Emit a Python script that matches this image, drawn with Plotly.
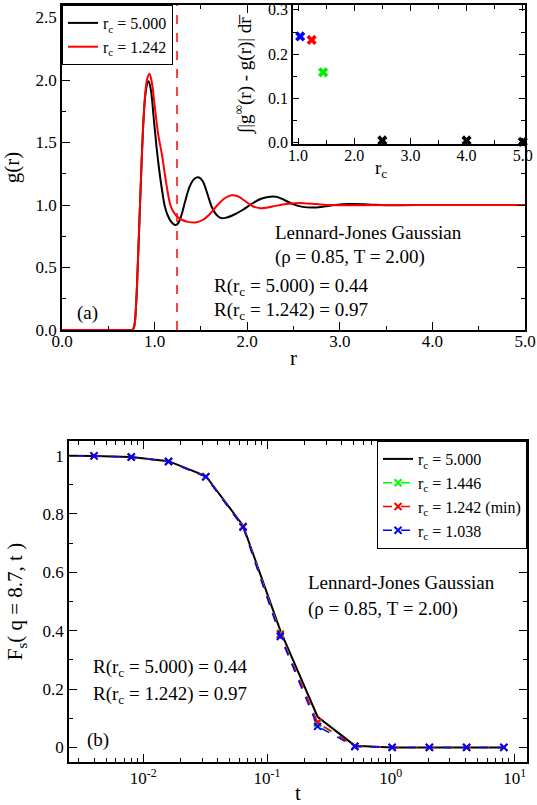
import plotly.graph_objects as go

# ---------------- data: panel (a) g(r) ----------------
r_black = [0.0, 0.70, 0.76, 0.78, 0.80, 0.82, 0.84, 0.86, 0.88, 0.90, 0.92, 0.935, 0.96, 0.99,
           1.02, 1.05, 1.08, 1.11, 1.14, 1.18, 1.22, 1.25, 1.29, 1.33, 1.38, 1.43, 1.48, 1.52,
           1.57, 1.62, 1.67, 1.72, 1.78, 1.85, 1.95, 2.05, 2.15, 2.25, 2.32, 2.40, 2.50, 2.60,
           2.70, 2.80, 2.95, 3.10, 3.30, 3.50, 3.80, 4.20, 4.60, 5.00]
g_black = [0.0, 0.0, 0.0, 0.03, 0.20, 0.55, 0.95, 1.35, 1.68, 1.88, 1.97, 1.99, 1.92, 1.70,
           1.47, 1.28, 1.12, 0.99, 0.92, 0.865, 0.84, 0.85, 0.92, 1.03, 1.15, 1.21, 1.22, 1.19,
           1.09, 0.98, 0.92, 0.895, 0.90, 0.92, 0.96, 1.01, 1.05, 1.066, 1.065, 1.04, 1.005, 0.985,
           0.98, 0.985, 1.0, 1.008, 1.005, 0.998, 1.0, 1.0, 1.0, 1.0]

r_red = [0.0, 0.70, 0.76, 0.78, 0.80, 0.82, 0.84, 0.86, 0.88, 0.90, 0.92, 0.945, 0.97, 1.00,
         1.04, 1.08, 1.11, 1.14, 1.17, 1.20, 1.24, 1.30, 1.36, 1.44, 1.52, 1.60, 1.68, 1.75,
         1.83, 1.90, 1.98, 2.06, 2.14, 2.22, 2.32, 2.45, 2.60, 2.75, 2.90, 3.20, 3.60, 4.20, 5.00]
g_red = [0.0, 0.0, 0.0, 0.03, 0.20, 0.55, 0.95, 1.35, 1.68, 1.90, 2.01, 2.05, 1.98, 1.80,
         1.56, 1.40, 1.25, 1.11, 1.00, 0.95, 0.91, 0.88, 0.865, 0.86, 0.88, 0.93, 1.00, 1.05,
         1.078, 1.07, 1.03, 0.99, 0.975, 0.98, 0.995, 1.01, 1.015, 1.008, 1.0, 0.998, 1.0, 1.0, 1.0]

rc_min = 1.242

# inset: integral |g_inf - g| vs r_c
inset_rc = [1.038, 1.242, 1.446, 2.5, 4.0, 5.0]
inset_dev = [0.240, 0.232, 0.159, 0.005, 0.005, 0.002]
inset_colors = ["#0000ff", "#ff0000", "#00ee00", "black", "black", "black"]

# ---------------- data: panel (b) Fs(q, t) ----------------
t_vals = [0.002, 0.004, 0.008, 0.016, 0.032, 0.064, 0.128, 0.256, 0.512, 1.024, 2.048, 4.096, 8.192]
fs_500 = [1.0, 0.999, 0.995, 0.981, 0.930, 0.760, 0.400, 0.105, 0.006, 0.0, 0.0, 0.0, 0.0]
fs_1446 = [1.0, 0.999, 0.995, 0.980, 0.928, 0.757, 0.390, 0.082, 0.004, 0.0, 0.0, 0.0, 0.0]
fs_1242 = [1.0, 0.999, 0.995, 0.980, 0.928, 0.757, 0.386, 0.086, 0.004, 0.0, 0.0, 0.0, 0.0]
fs_1038 = [1.0, 0.999, 0.995, 0.980, 0.927, 0.755, 0.380, 0.072, 0.003, 0.0, 0.0, 0.0, 0.0]

x_log_ticks = [0.01, 0.1, 1, 10]
x_log_labels = ["10<sup>-2</sup>", "10<sup>-1</sup>", "10<sup>0</sup>", "10<sup>1</sup>"]

FONT = "Liberation Serif, Times New Roman, serif"
W, H = 537, 805


def px(x):
    return x / W


def py(y):
    return 1 - y / H


fig = go.Figure()

# panel (a)
fig.add_trace(go.Scatter(x=r_black, y=g_black, mode="lines", line=dict(color="black", width=2),
                         line_shape="spline", name="r<sub>c</sub> = 5.000", xaxis="x", yaxis="y",
                         legend="legend"))
fig.add_trace(go.Scatter(x=r_red, y=g_red, mode="lines", line=dict(color="#ff0000", width=2),
                         line_shape="spline", name="r<sub>c</sub> = 1.242", xaxis="x", yaxis="y",
                         legend="legend"))
fig.add_trace(go.Scatter(x=[rc_min, rc_min], y=[0, 2.6], mode="lines",
                         line=dict(color="#ff0000", width=1.5, dash="dash"),
                         showlegend=False, xaxis="x", yaxis="y"))

# inset
fig.add_trace(go.Scatter(x=inset_rc, y=inset_dev, mode="markers",
                         marker=dict(symbol="x", size=9, color=inset_colors, line=dict(width=0)),
                         showlegend=False, xaxis="x2", yaxis="y2", cliponaxis=False))

# panel (b)
fig.add_trace(go.Scatter(x=t_vals, y=fs_500, mode="lines", line=dict(color="black", width=2),
                         name="r<sub>c</sub> = 5.000", xaxis="x3", yaxis="y3", legend="legend2"))
for vals, col, nm in [(fs_1446, "#00ff00", "r<sub>c</sub> = 1.446"),
                      (fs_1242, "#ff0000", "r<sub>c</sub> = 1.242 (min)"),
                      (fs_1038, "#0000ff", "r<sub>c</sub> = 1.038")]:
    fig.add_trace(go.Scatter(x=t_vals, y=vals, mode="lines+markers",
                             line=dict(color=col, width=1.5, dash="dash"),
                             marker=dict(symbol="x-thin", size=7, color=col,
                                         line=dict(color=col, width=2)),
                             name=nm, xaxis="x3", yaxis="y3", legend="legend2"))

axis_common = dict(showline=True, linecolor="black", linewidth=1.5, mirror="ticks",
                   ticks="inside", ticklen=8, tickwidth=1, tickcolor="black",
                   showgrid=False, zeroline=False, automargin=False,
                   tickfont=dict(family=FONT, size=17, color="black"))
minor_common = dict(ticks="inside", ticklen=4, tickwidth=1, tickcolor="black", showgrid=False)

fig.update_layout(
    width=W, height=H, autosize=False,
    margin=dict(l=0, r=0, t=0, b=0, pad=0),
    paper_bgcolor="white", plot_bgcolor="white",
    font=dict(family=FONT, size=16, color="black"),
    xaxis=dict(axis_common, domain=[px(62), px(525)], range=[0, 5], dtick=1, tickformat=".1f",
               minor=dict(minor_common, dtick=0.5), anchor="y", ticklabelstandoff=-5,
               title=dict(text="r", font=dict(family=FONT, size=21), standoff=0)),
    yaxis=dict(axis_common, domain=[py(330), py(5)], range=[0, 2.6], dtick=0.5, tickformat=".1f",
               minor=dict(minor_common, dtick=0.25), anchor="x",
               title=dict(text="g(r)", font=dict(family=FONT, size=21), standoff=14)),
    xaxis2=dict(axis_common, domain=[px(293), px(525)], range=[0.91, 5.04], dtick=1,
                tickformat=".1f", minor=dict(minor_common, dtick=0.5), anchor="y2",
                tickfont=dict(family=FONT, size=16, color="black"), ticklen=6,
                ticklabelstandoff=-4),
    yaxis2=dict(axis_common, domain=[py(144), py(5)], range=[-0.003, 0.311], dtick=0.1,
                tickformat=".1f", minor=dict(minor_common, dtick=0.05), anchor="x2",
                tickfont=dict(family=FONT, size=16, color="black"), ticklen=6),
    xaxis3=dict(axis_common, type="log", domain=[px(69), px(527)], range=[-2.6, 1.1],
                tickvals=x_log_ticks, ticktext=x_log_labels,
                minor=dict(minor_common,
                           tickvals=[k * 10.0 ** e for e in range(-3, 2) for k in range(2, 10)]),
                anchor="y3",
                title=dict(text="t", font=dict(family=FONT, size=21), standoff=0)),
    yaxis3=dict(axis_common, domain=[py(762), py(441)], range=[-0.05, 1.05], dtick=0.2,
                minor=dict(minor_common, dtick=0.1), anchor="x3",
                title=dict(text="F<sub>s</sub>( q = 8.7, t )", font=dict(family=FONT, size=21),
                           standoff=14)),
    legend=dict(x=px(62), y=py(5), xanchor="left", yanchor="top", bgcolor="white",
                bordercolor="black", borderwidth=1, font=dict(family=FONT, size=16),
                itemwidth=30, tracegroupgap=0),
    legend2=dict(x=px(527), y=py(441), xanchor="right", yanchor="top", bgcolor="white",
                 bordercolor="black", borderwidth=1, font=dict(family=FONT, size=16),
                 itemwidth=30, tracegroupgap=0),
)

annos = [
    ("Lennard-Jones Gaussian", 273, 233),
    ("(\u03c1 = 0.85, T = 2.00)", 273, 257),
    ("R(r<sub>c</sub> = 5.000) = 0.44", 212, 287),
    ("R(r<sub>c</sub> = 1.242) = 0.97", 212, 311),
    ("(a)", 75, 313),
    ("Lennard-Jones Gaussian", 306, 582),
    ("(\u03c1 = 0.85, T = 2.00)", 306, 609),
    ("R(r<sub>c</sub> = 5.000) = 0.44", 91, 668),
    ("R(r<sub>c</sub> = 1.242) = 0.97", 91, 695),
    ("(b)", 85, 740),
]
for txt, x, y in annos:
    fig.add_annotation(text=txt, x=px(x), y=py(y), xref="paper", yref="paper",
                       xanchor="left", yanchor="middle", showarrow=False,
                       font=dict(family=FONT, size=19, color="black"))

# inset axis titles
fig.add_annotation(text="\u222b|g<sup>\u221e</sup>(r) - g(r)| dr\u0305", x=px(244), y=py(74),
                   xref="paper", yref="paper", xanchor="center", yanchor="middle",
                   textangle=-90, showarrow=False,
                   font=dict(family=FONT, size=19, color="black"))
fig.add_annotation(text="r<sub>c</sub>", x=px(381), y=py(169), xref="paper", yref="paper",
                   xanchor="center", yanchor="middle",
                   showarrow=False, font=dict(family=FONT, size=19, color="black"))

fig.write_html(
    "out.html",
    config={"displayModeBar": False},
    post_script=("document.documentElement.style.overflow='hidden';"
                 "document.body.style.overflow='hidden';"
                 "document.body.style.margin='0px';document.body.style.padding='0px';"),
)
